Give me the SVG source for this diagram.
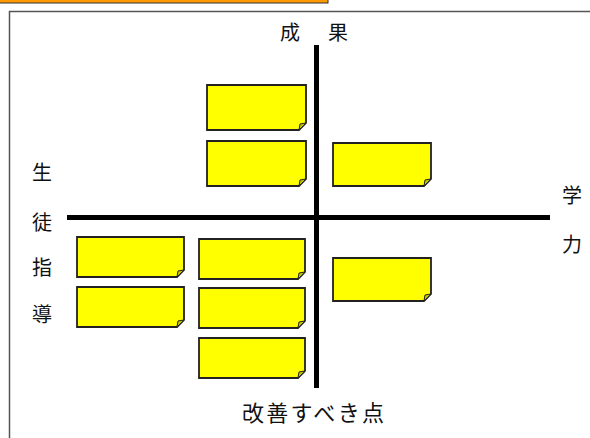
<svg xmlns="http://www.w3.org/2000/svg" width="590" height="438" viewBox="0 0 590 438">
<style>
.t{font-family:"Noto Sans CJK JP","Noto Sans",sans-serif;font-size:20px;fill:#111;}
.b{fill:#FFFF00;stroke:#222;stroke-width:1.8;}
.f{fill:#C8C800;stroke:#222;stroke-width:1;}
.ax{fill:#000;}
</style>
<defs>
<g id="n98">
<path class="b" d="M0,0 H98 V36 L91,43 H0 Z"/>
<path class="f" d="M98,36 L91,43 L92,37 Z"/>
</g>
<g id="n106">
<path class="b" d="M0,0 H106 V33 L99,40 H0 Z"/>
<path class="f" d="M106,33 L99,40 L100,34 Z"/>
</g>
<g id="n107">
<path class="b" d="M0,0 H107 V33 L100,40 H0 Z"/>
<path class="f" d="M107,33 L100,40 L101,34 Z"/>
</g>
<g id="n99">
<path class="b" d="M0,0 H99 V38 L92,45 H0 Z"/>
<path class="f" d="M99,38 L92,45 L93,39 Z"/>
</g>
</defs>
<rect x="-2" y="-10" width="330" height="13" fill="#FF9900" stroke="#333" stroke-width="1"/>
<rect x="9.5" y="11.5" width="600" height="450" fill="#fff" stroke="#555" stroke-width="1.5"/>
<g id="connectors">
<rect class="ax" x="314" y="45" width="5" height="343"/>
<rect class="ax" x="67" y="215" width="483" height="5"/>
</g>
<g id="note1"><use href="#n99" x="207" y="85"/></g>
<g id="note2"><use href="#n99" x="207" y="141"/></g>
<g id="note3"><use href="#n98" x="333" y="143"/></g>
<g id="note4"><use href="#n98" x="333" y="258"/></g>
<g id="note5"><use href="#n107" x="77" y="237"/></g>
<g id="note6"><use href="#n107" x="77" y="287"/></g>
<g id="note7"><use href="#n106" x="199" y="239"/></g>
<g id="note8"><use href="#n106" x="199" y="288"/></g>
<g id="note9"><use href="#n106" x="199" y="338"/></g>
<g id="labels">
<text class="t" x="280" y="40">成</text>
<text class="t" x="328" y="40">果</text>
<text class="t" x="32" y="180">生</text>
<text class="t" x="32" y="230">徒</text>
<text class="t" x="32" y="275">指</text>
<text class="t" x="32" y="322">導</text>
<text class="t" x="562" y="203">学</text>
<text class="t" x="562" y="252">力</text>
<text class="t" x="242" y="421" style="font-size:22px" textLength="142" lengthAdjust="spacing">改善すべき点</text>
</g>
</svg>
